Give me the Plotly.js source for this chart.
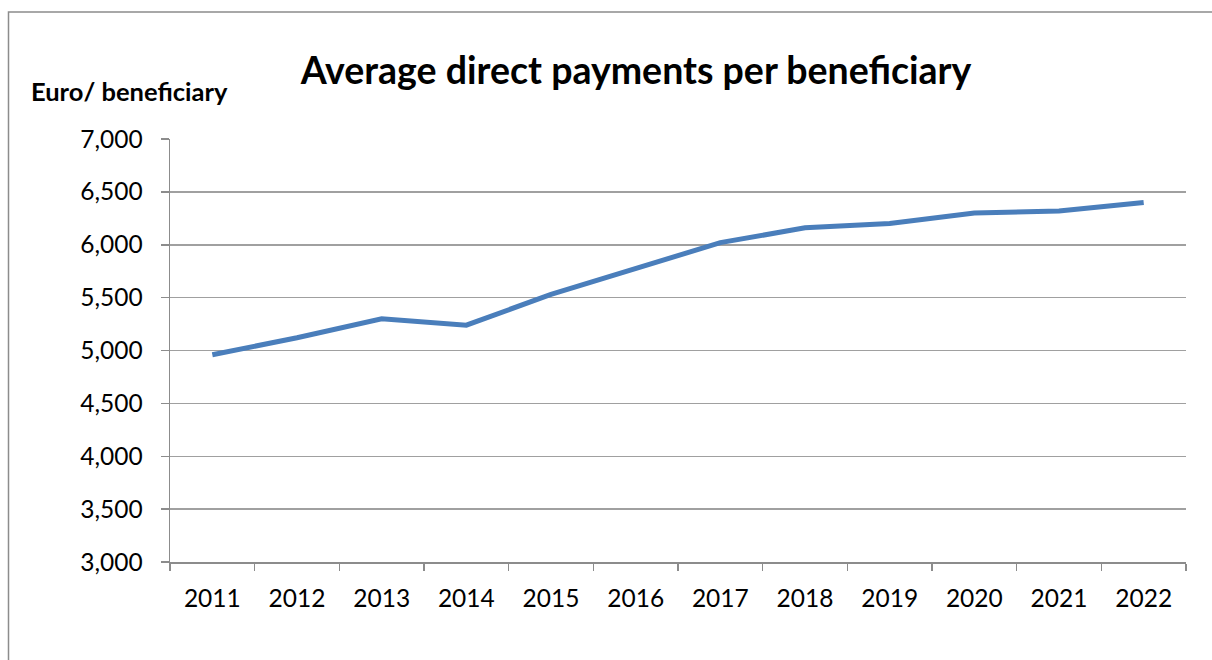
<!DOCTYPE html>
<html>
<head>
<meta charset="utf-8">
<script src="https://cdn.plot.ly/plotly-3.0.1.min.js"></script>
<style>
html,body{margin:0;padding:0;background:#fff;}
#chart{width:1212px;height:660px;}
</style>
</head>
<body>
<div id="chart"></div>
<script>
const years = ["2011","2012","2013","2014","2015","2016","2017","2018","2019","2020","2021","2022"];
const avgPayment = [4960, 5120, 5300, 5240, 5530, 5780, 6020, 6160, 6200, 6300, 6320, 6400];
const yTicks = [3000, 3500, 4000, 4500, 5000, 5500, 6000, 6500, 7000];
const yTickLabels = ["3,000","3,500","4,000","4,500","5,000","5,500","6,000","6,500","7,000"];
const chartTitle = "Average direct payments per beneficiary";
const yLabel = "Euro/ beneficiary";

const FONT = "Lato, 'Open Sans', sans-serif";

const trace = {
  type: "scatter",
  mode: "lines",
  x: years,
  y: avgPayment,
  line: {color: "#4a7ebb", width: 5},
  hoverinfo: "x+y"
};

const layout = {
  width: 1212,
  height: 660,
  margin: {l: 170, r: 26, t: 139, b: 98},
  paper_bgcolor: "#ffffff",
  plot_bgcolor: "#ffffff",
  showlegend: false,
  font: {family: FONT, color: "#000", size: 24},
  title: {
    text: "<b>" + chartTitle + "</b>",
    font: {family: FONT, size: 37.5, color: "#000"},
    x: 636/1212, xanchor: "center",
    y: 1 - 71/660, yanchor: "middle", yref: "container"
  },
  xaxis: {
    type: "category",
    tickson: "boundaries",
    ticks: "outside",
    ticklen: 7,
    tickwidth: 1.5,
    tickcolor: "#8c8c8c",
    showline: true,
    linecolor: "#8c8c8c",
    linewidth: 1.5,
    showgrid: false,
    zeroline: false,
    ticklabelstandoff: 14,
    tickfont: {family: FONT, size: 24.5, color: "#000"},
    range: [-0.5, 11.5],
    fixedrange: true
  },
  yaxis: {
    range: [3000, 7000],
    tickvals: yTicks,
    ticktext: yTickLabels,
    ticks: "outside",
    ticklen: 8,
    tickwidth: 1.5,
    tickcolor: "#8c8c8c",
    showline: true,
    linecolor: "#8c8c8c",
    linewidth: 1.5,
    showgrid: true,
    gridcolor: "#a0a0a0",
    gridwidth: 1.5,
    zeroline: false,
    ticklabelstandoff: 13,
    tickfont: {family: FONT, size: 24.5, color: "#000"},
    fixedrange: true
  },
  annotations: [{
    text: "<b>" + yLabel + "</b>",
    xref: "paper", yref: "paper",
    x: (29 - 170) / 1016, xanchor: "left",
    y: (561.7 - 91) / 422.4, yanchor: "middle",
    showarrow: false,
    font: {family: FONT, size: 25.5, color: "#000"}
  }],
  shapes: [{
    type: "rect",
    xref: "paper", yref: "paper",
    x0: (8.5 - 170) / 1016, x1: 1.2,
    y0: -0.5, y1: (561.7 - 12.5) / 422.4,
    line: {color: "#8c8c8c", width: 1.5},
    fillcolor: "rgba(0,0,0,0)",
    layer: "below"
  }]
};

Plotly.newPlot("chart", [trace], layout, {displayModeBar: false, staticPlot: true});
</script>
</body>
</html>
